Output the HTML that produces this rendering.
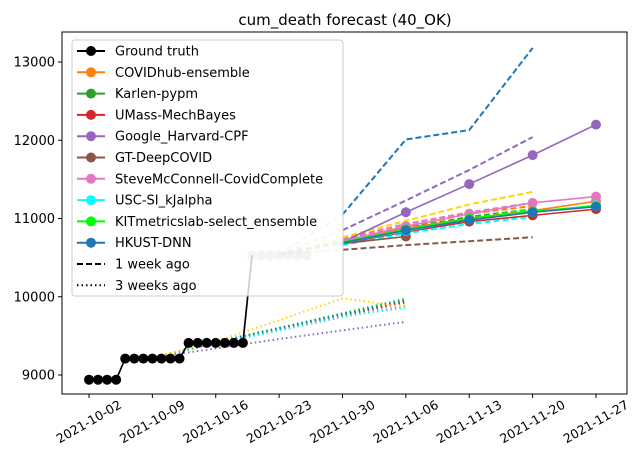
<!DOCTYPE html>
<html><head><meta charset="utf-8"><style>
body{margin:0;background:#fff;font-family:"DejaVu Sans","Liberation Sans",sans-serif}
svg text{font-family:"DejaVu Sans","Liberation Sans",sans-serif}
</style></head><body>
<svg id="c" width="644" height="466" xmlns="http://www.w3.org/2000/svg"></svg>
<script>
const startDate='2021-10-02';
const xTickLabels=['2021-10-02','2021-10-09','2021-10-16','2021-10-23','2021-10-30','2021-11-06','2021-11-13','2021-11-20','2021-11-27'];
const yTicks=[9000,10000,11000,12000,13000];
const truthDays=[0,1,2,3,4,5,6,7,8,9,10,11,12,13,14,15,16,17];
const truthVals=[8940,8940,8940,8940,9210,9210,9210,9210,9210,9210,9210,9410,9410,9410,9410,9410,9410,9410];
const laterDays=[18,19,20,21,22,23,24];
const laterVals=[10530,10530,10530,10530,10530,10530,10530];
const models=['COVIDhub-ensemble','Karlen-pypm','UMass-MechBayes','Google_Harvard-CPF','GT-DeepCOVID','SteveMcConnell-CovidComplete','USC-SI_kJalpha','KITmetricslab-select_ensemble','HKUST-DNN','extra-model'];
const colors=['#ff7f0e','#2ca02c','#d62728','#9467bd','#8c564b','#e377c2','#00ffff','#00ff00','#1f77b4','#ffd700'];
const solidDays=[28,35,42,49,56];
const solidVals=[
[10700,10880,11000,11100,11220],
[10690,10850,10990,11080,11160],
[10680,10830,10960,11040,11120],
[10700,11080,11440,11810,12200],
[10680,10770,null,null,null],
[10710,10900,11060,11200,11280],
[10690,10840,10990,11080,11170],
[10700,10860,11000,11090,11160],
[10690,10850,10980,11080,11150],
[null,null,null,null,null]];
const dashDays=[21,28,35,42,49];
const dashVals=[
[10540,10720,10900,11060,11160],
[10540,10700,10880,11020,11120],
[10540,10690,10850,10990,11080],
[10540,10850,11230,11620,12040],
[10540,10600,10660,10710,10760],
[10540,10740,10930,11080,11200],
[10540,10660,10810,10930,11020],
[10540,10700,10870,11000,11120],
[10540,11050,12010,12130,13180],
[10540,10760,10970,11180,11340]];
const dotDays=[7,14,21,28,35];
const dotVals=[
[9220,9420,9600,9780,9960],
[9220,9420,9590,9770,9940],
[9220,9410,9580,9760,9930],
[9220,9340,9460,9570,9680],
[9220,9410,9580,9760,9950],
[9220,9400,9570,9740,9890],
[9220,9400,9570,9750,9860],
[9220,9420,9600,9790,9980],
[9220,9420,9600,9780,9960],
[9220,9430,9700,9980,9870]];
const L=62,R=627,T=32,B=394;
const x=d=>89+d*(507/56);
const y=v=>375-(v-9000)*0.07825;
const svg=document.getElementById('c');
const NS='http://www.w3.org/2000/svg';
function mk(t,a,p){const e=document.createElementNS(NS,t);for(const k in a)e.setAttribute(k,a[k]);(p||svg).appendChild(e);return e;}
let e;
e=mk('text',{x:345,y:25,'text-anchor':'middle','font-size':15,fill:'#000'});e.textContent='cum_death forecast (40_OK)';


function poly(days,vals,col,dash,w,op,name){
  const pts=[];days.forEach((d,i)=>{if(vals[i]!=null)pts.push(x(d)+','+y(vals[i]));});
  if(pts.length<2)return;
  const a={points:pts.join(' '),fill:'none',stroke:col,'stroke-width':w,opacity:op};
  if(dash)a['stroke-dasharray']=dash;
  const p=mk('polyline',a);
  
  
}
function dots(days,vals,col,r,name){
  days.forEach((d,i)=>{if(vals[i]==null)return;
    const c=mk('circle',{cx:x(d),cy:y(vals[i]),r:r,fill:col});
    
    });
}
dotVals.forEach((v,i)=>poly(dotDays,v,colors[i],'1.5,3',2,1,'dotted-'+models[i]));
poly([17].concat(laterDays),[truthVals[17]].concat(laterVals),'#c8c8c8',null,2,1,'later-truth-line');
dots(laterDays,laterVals,'#c8c8c8',5,'later-truth-point');
dashVals.forEach((v,i)=>poly(dashDays.slice(0,2),v.slice(0,2),colors[i],'6,3',2,0.3,'dashed-start-'+models[i]));
dashVals.forEach((v,i)=>poly(dashDays.slice(1),v.slice(1),colors[i],'6,3',2,1,'dashed-'+models[i]));
solidVals.forEach((v,i)=>{poly(solidDays,v,colors[i],null,1.6,1,'forecast-'+models[i]);dots(solidDays.slice(1),v.slice(1),colors[i],5,'forecast-point-'+models[i]);});
poly(truthDays,truthVals,'#000',null,1.6,1,'ground-truth-line');
poly([17,18],[truthVals[17],laterVals[0]],'#000',null,1.6,1,'truth-jump');
dots(truthDays,truthVals,'#000',5,'ground-truth-point');
e=mk('rect',{x:L,y:T,width:R-L,height:B-T,fill:'none',stroke:'#000','stroke-width':1});


yTicks.forEach(v=>{mk('line',{x1:L-4,x2:L,y1:y(v),y2:y(v),stroke:'#000'});
  const t=mk('text',{x:L-7,y:y(v)+4.5,'text-anchor':'end','font-size':13});t.textContent=v;
  
  });
xTickLabels.forEach((s,i)=>{const xx=x(i*7);mk('line',{x1:xx,x2:xx,y1:B,y2:B+4,stroke:'#000'});
  const cy=B+28;
  const t=mk('text',{x:xx,y:cy+4,'text-anchor':'middle','font-size':12.5,transform:`rotate(-30 ${xx} ${cy})`});t.textContent=s;
  
  });
const lg=mk('g',{});


mk('rect',{x:72,y:40,width:271,height:256,rx:3,fill:'#fff','fill-opacity':0.8,stroke:'#ccc'},lg);
const names=['Ground truth'].concat(models.slice(0,9),['1 week ago','3 weeks ago']);
const lcols=['#000'].concat(colors.slice(0,9),['#000','#000']);
names.forEach((n,i)=>{const yy=51+i*21.3;
  const a={x1:77,x2:105,y1:yy,y2:yy,stroke:lcols[i],'stroke-width':2};
  if(i==10)a['stroke-dasharray']='6,3';if(i==11)a['stroke-dasharray']='1.5,3';
  mk('line',a,lg);
  if(i<10)mk('circle',{cx:91,cy:yy,r:5,fill:lcols[i]},lg);
  const t=mk('text',{x:115,y:yy+4.5,'font-size':13},lg);t.textContent=n;
  
  });
</script>
</body></html>
